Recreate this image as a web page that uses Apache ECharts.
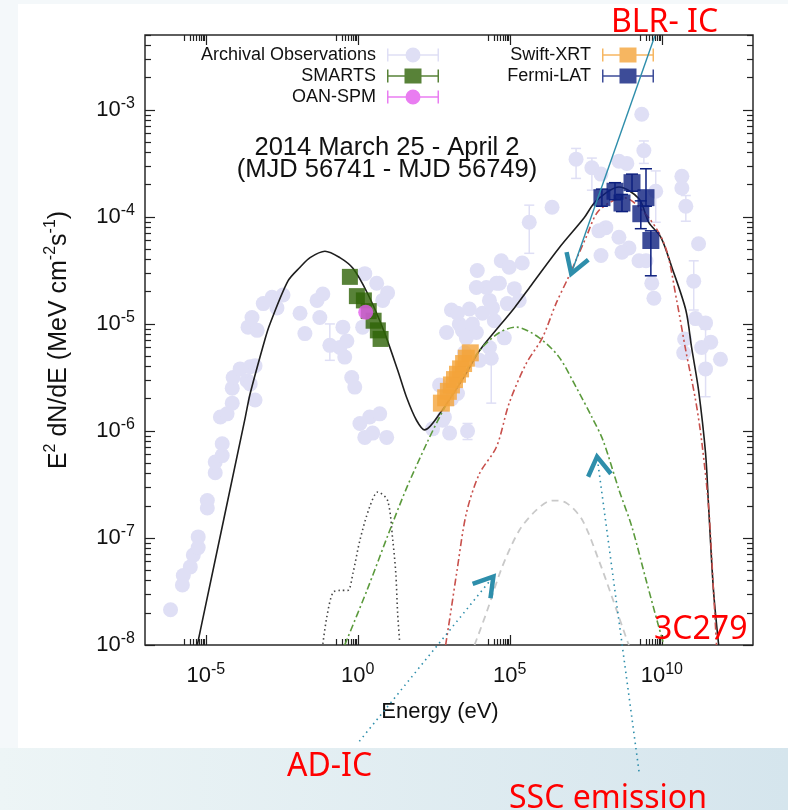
<!DOCTYPE html>
<html>
<head>
<meta charset="utf-8">
<script src="https://cdn.jsdelivr.net/npm/echarts@6/dist/echarts.min.js"></script>
<style>
  html, body { margin: 0; padding: 0; background: #f4f8fa; }
  #sed { width: 788px; height: 810px; }
</style>
</head>
<body>
<div id="sed"></div>
<script>
// all values are log10: energy in eV, flux E^2 dN/dE in MeV cm^-2 s^-1

// archival observations
const archE = [-6.16, -5.77, -5.74, -5.51, -5.41, -5.25, -5.25, -4.95, -4.95, -4.69, -4.69, -4.46, -4.46, -4.52, -4.30,
  -4.13, -4.13, -4.10, -3.87, -3.64, -3.54, -3.38, -3.38, -3.54, -3.61, -3.31, -3.48, -3.11, -2.82, -2.46, -2.66,
  -1.90, -1.74, -1.34, -1.15, -1.25, -0.92, -0.49, -0.36, -0.59, -0.43, -0.20, -0.10, 0.23, 0.62, 0.98, 0.82, 0.16,
  0.07, 0.39, 0.72, 0.49, 0.95, 0.23,
  2.46, 3.02, 2.85, 3.61, 2.69, 3.08, 3.08, 2.92, 3.44, 3.77, 4.10, 4.33, 4.72, 4.98, 4.66, 4.92, 4.82, 4.33, 3.57,
  4.00, 3.67, 5.41, 4.23, 3.93, 4.39, 5.64, 6.39, 3.90, 4.43, 3.34, 3.90, 3.28, 2.79,
  5.15, 4.49, 5.31, 3.51, 3.28, 4.56,
  7.18, 7.70, 8.00, 8.59, 8.85, 9.41, 9.34, 9.80, 8.16, 8.59, 8.92, 8.00, 7.93, 9.48, 9.67, 9.74, 8.69, 9.25,
  10.66, 10.66, 10.79, 11.21, 11.05, 11.11, 11.44, 10.75, 10.72, 11.61, 11.93, 11.44, 11.31];
const archF = [-7.67, -7.44, -7.35, -7.27, -7.16, -7.09, -6.99, -6.72, -6.65, -6.39, -6.29, -6.23, -6.12, -5.87, -5.84,
  -5.74, -5.60, -5.50, -5.42, -5.53, -5.40, -5.39, -5.71, -5.56, -5.03, -5.06, -4.94, -4.81, -4.75, -4.73, -4.85,
  -4.90, -5.09, -4.78, -4.72, -4.94, -5.20, -5.03, -5.16, -5.22, -5.31, -5.50, -5.59, -4.53, -4.62, -4.71, -4.78, -5.03,
  -5.93, -5.87, -5.84, -6.02, -6.06, -6.06,
  -5.98, -6.02, -5.87, -6.00, -5.57, -5.70, -4.87, -5.08, -5.06, -5.00, -4.90, -4.78, -4.41, -4.47, -4.62, -4.81, -5.13,
  -5.22, -5.13, -5.34, -4.86, -4.43, -4.66, -4.50, -5.32, -4.05, -3.91, -4.66, -4.85, -5.00, -5.08, -5.65, -5.90,
  -4.67, -4.97, -4.78, -5.27, -4.90, -4.62,
  -3.46, -3.54, -3.60, -3.48, -3.50, -3.38, -3.04, -3.76, -4.10, -4.19, -4.29, -4.36, -4.13, -4.41, -4.62, -4.76, -4.33, -4.41,
  -3.62, -3.73, -3.90, -4.25, -4.60, -4.95, -4.99, -5.14, -5.27, -5.17, -5.33, -5.42, -5.22];
const archErrE = [-0.92, 3.61, 4.39, 5.64, 7.18, 7.70, 9.41, 9.80, 10.79, 11.05, 11.44];
const archErrLo = [-5.34, -6.08, -5.74, -4.34, -3.64, -3.75, -3.50, -4.05, -4.04, -4.87, -5.68];
const archErrHi = [-5.00, -5.93, -5.20, -3.89, -3.36, -3.45, -3.29, -3.57, -3.80, -4.41, -5.05];

// SMARTS
const smartsE = [-0.26, -0.03, 0.20, 0.36, 0.52, 0.66, 0.75];
const smartsF = [-4.56, -4.74, -4.78, -4.88, -4.97, -5.06, -5.14];
// OAN-SPM
const oanE = [0.26];
const oanF = [-4.89];
// Swift-XRT
const swiftE = [2.75, 2.89, 2.98, 3.08, 3.18, 3.28, 3.38, 3.48, 3.57, 3.70];
const swiftF = [-5.74, -5.69, -5.63, -5.57, -5.52, -5.47, -5.42, -5.37, -5.32, -5.27];
// Fermi-LAT
const fermiE = [8.03, 8.46, 8.69, 9.02, 9.48, 9.31, 9.64];
const fermiF = [-3.82, -3.76, -3.87, -3.68, -3.82, -3.97, -4.22];
const fermiLo = [-3.90, -3.84, -3.95, -3.76, -3.90, -4.11, -4.55];
const fermiHi = [-3.74, -3.68, -3.79, -3.60, -3.55, -3.85, -4.13];

// model curves
const totalE = [-5.28, -5.11, -3.70, -3.54, -3.05, -2.89, -2.30, -1.90, -1.57, -1.08, -0.59, -0.16, 0.33, 0.85, 1.31,
  1.61, 1.93, 2.20, 2.69, 3.57, 4.00, 5.15, 5.70, 6.62, 7.44, 7.84, 8.59, 9.25, 9.57, 9.97, 10.33, 10.79, 10.98,
  11.21, 11.44, 11.54, 11.70, 11.87];
const totalF = [-8.00, -7.77, -5.87, -5.65, -5.14, -5.00, -4.60, -4.47, -4.38, -4.32, -4.38, -4.48, -4.72, -5.06, -5.43,
  -5.69, -5.90, -5.99, -5.84, -5.46, -5.25, -4.85, -4.64, -4.29, -4.01, -3.85, -3.72, -3.83, -4.05, -4.19, -4.47, -4.87, -5.22,
  -5.62, -6.21, -6.71, -7.49, -8.00];
const diskE = [-1.15, -1.02, -0.82, -0.59, -0.33, -0.16, 0.07, 0.39, 0.66, 0.98, 1.15, 1.25, 1.31, 1.38];
const diskF = [-7.99, -7.74, -7.51, -7.49, -7.49, -7.33, -7.02, -6.71, -6.57, -6.65, -7.02, -7.33, -7.70, -7.98];
const sscE = [-0.43, 0.30, 1.05, 1.61, 2.26, 2.69, 3.18, 4.00, 4.66, 5.21, 5.97, 6.62, 7.18, 7.70, 8.07, 8.59, 9.02,
  9.48, 9.90, 10.07];
const sscF = [-8.00, -7.49, -6.93, -6.53, -6.12, -5.87, -5.62, -5.25, -5.08, -5.03, -5.13, -5.31, -5.59, -5.87, -6.09,
  -6.55, -6.90, -7.39, -7.83, -8.00];
const adicE = [3.84, 4.23, 4.75, 5.31, 5.87, 6.39, 6.85, 7.38, 7.93, 8.36, 8.85, 8.92];
const adicF = [-8.00, -7.70, -7.27, -6.93, -6.74, -6.65, -6.67, -6.83, -7.21, -7.55, -7.95, -8.00];
const blrE = [2.89, 3.08, 3.25, 3.57, 4.00, 4.56, 4.98, 5.54, 6.07, 6.52, 6.95, 7.51, 7.93, 8.75, 9.60, 10.13, 10.49,
  10.79, 11.11, 11.31, 11.54, 11.70, 11.80];
const blrF = [-8.00, -7.65, -7.33, -6.77, -6.40, -6.15, -5.74, -5.37, -5.13, -4.81, -4.55, -4.19, -3.94, -3.82, -4.02,
  -4.29, -4.78, -5.25, -5.71, -6.09, -6.71, -7.49, -8.00];

// tick labels
const xMajor = [-5, 0, 5, 10];
const yMajor = [-8, -7, -6, -5, -4, -3];

const steps = [2, 3, 4, 5, 6, 7, 8, 9].map(k => Math.log10(k));
const xMinor = [];
xMajor.forEach(m => steps.forEach(s => xMinor.push(m - 1 + s)));
const yMinor = [];
yMajor.forEach(m => steps.forEach(s => { if (m + s <= -2.3) yMinor.push(m + s); }));

const pairs = (a, b) => a.map((v, i) => [v, b[i]]);
const triples = (a, b, c) => a.map((v, i) => [v, b[i], c[i]]);

const FONT = '"Liberation Sans", Arial, sans-serif';
const C_ARCH = '#dfdff5';
const C_SMARTS = '#2e6306';
const C_OAN = '#e35ced';
const C_SWIFT = '#f4a43a';
const C_FERMI = '#0c1f7e';
const TEAL = '#2e8eab';

const chart = echarts.init(document.getElementById('sed'), null, { renderer: 'canvas' });

const powLabel = v => '{b|10}{s|' + v + '}';
const labelRich = {
  b: { fontSize: 22, lineHeight: 28, fontFamily: FONT, color: '#111' },
  s: { fontSize: 16, lineHeight: 12, fontFamily: FONT, color: '#111', verticalAlign: 'top' }
};
const tickLine = { color: '#222', width: 1.2 };

function xAxisDef(pos, values, len, labels) {
  return {
    type: 'value', min: -7, max: 13, position: pos,
    splitLine: { show: false },
    axisLine: { show: false, onZero: false },
    axisTick: { inside: true, length: len, customValues: values, lineStyle: tickLine },
    axisLabel: labels
      ? { customValues: xMajor, formatter: powLabel, rich: labelRich, margin: 17 }
      : { show: false }
  };
}
function yAxisDef(pos, values, len, labels) {
  return {
    type: 'value', min: -8, max: -2.3, position: pos,
    splitLine: { show: false },
    axisLine: { show: false, onZero: false },
    axisTick: { inside: true, length: len, customValues: values, lineStyle: tickLine },
    axisLabel: labels
      ? { customValues: yMajor, formatter: powLabel, rich: labelRich, margin: 10 }
      : { show: false }
  };
}

function errorBar(color, half) {
  return function (params, api) {
    const top = api.coord([api.value(0), api.value(2)]);
    const bot = api.coord([api.value(0), api.value(1)]);
    const st = { stroke: color, lineWidth: 1.5 };
    return {
      type: 'group',
      children: [
        { type: 'line', shape: { x1: top[0], y1: top[1], x2: bot[0], y2: bot[1] }, style: st },
        { type: 'line', shape: { x1: top[0] - half, y1: top[1], x2: top[0] + half, y2: top[1] }, style: st },
        { type: 'line', shape: { x1: bot[0] - half, y1: bot[1], x2: bot[0] + half, y2: bot[1] }, style: st }
      ]
    };
  };
}

function model(name, e, f, color, dash, width) {
  return {
    name: name, type: 'line', data: pairs(e, f), showSymbol: false, smooth: 0.3, z: 3,
    lineStyle: { color: color, width: width, type: dash }, silent: true
  };
}

// legend icons: marker with horizontal error bar
const barPath = 'M0,1h1.5v5.75h49v-5.75h1.5v13h-1.5v-5.75h-49v5.75h-1.5z';
const iconCircle = 'path://' + barPath + ' M18.5,7.5a7.5,7.5 0 1,1 15,0a7.5,7.5 0 1,1 -15,0z';
const iconSquare = 'path://' + barPath + ' M17.5,0h17v15h-17z';
const legendBase = {
  orient: 'vertical', align: 'right', top: 46, padding: 0, itemGap: 3,
  itemWidth: 52, itemHeight: 15, selectedMode: false,
  textStyle: { fontSize: 18, fontFamily: FONT, color: '#111', padding: [0, 6, 0, 0] }
};

const option = {
  backgroundColor: 'transparent',
  animation: false,
  grid: {
    left: 145, top: 35, right: 35, bottom: 165,
    show: true, borderColor: '#2a2a2a', borderWidth: 1.5, backgroundColor: 'transparent',
    outerBoundsMode: 'none'
  },
  title: {
    text: '2014 March 25 - April 2\n(MJD 56741 - MJD 56749)',
    left: 387, top: 137, textAlign: 'center', padding: 0,
    textStyle: { fontSize: 25.5, fontWeight: 'normal', fontFamily: FONT, color: '#111', lineHeight: 22 }
  },
  legend: [
    Object.assign({}, legendBase, {
      right: 349,
      data: [
        { name: 'Archival Observations', icon: iconCircle },
        { name: 'SMARTS', icon: iconSquare },
        { name: 'OAN-SPM', icon: iconCircle }
      ]
    }),
    Object.assign({}, legendBase, {
      right: 134,
      data: [
        { name: 'Swift-XRT', icon: iconSquare },
        { name: 'Fermi-LAT', icon: iconSquare }
      ]
    })
  ],
  xAxis: [
    Object.assign(xAxisDef('bottom', xMajor, 10, true), {
      name: 'Energy (eV)', nameLocation: 'middle', nameGap: 56,
      nameTextStyle: { fontSize: 22, fontFamily: FONT, color: '#111', padding: [0, 18, 0, 0] }
    }),
    xAxisDef('bottom', xMinor, 6, false),
    xAxisDef('top', xMajor, 10, false),
    xAxisDef('top', xMinor, 6, false)
  ],
  yAxis: [
    Object.assign(yAxisDef('left', yMajor, 10, true), {
      name: 'E{s|2} dN/dE (MeV cm{s|-2}s{s|-1})', nameLocation: 'middle', nameGap: 70,
      nameTextStyle: {
        fontSize: 25, lineHeight: 32, fontFamily: FONT, color: '#111',
        rich: { s: { fontSize: 16, lineHeight: 13, fontFamily: FONT, color: '#111', verticalAlign: 'top' } }
      }
    }),
    yAxisDef('left', yMinor, 6, false),
    yAxisDef('right', yMajor, 10, false),
    yAxisDef('right', yMinor, 6, false)
  ],
  series: [
    {
      name: 'archival errors', type: 'custom', z: 1, silent: true,
      renderItem: errorBar(C_ARCH, 5), data: triples(archErrE, archErrLo, archErrHi),
      encode: { x: 0, y: [1, 2] }
    },
    {
      name: 'Archival Observations', type: 'scatter', z: 1, silent: true,
      symbol: 'circle', symbolSize: 15, itemStyle: { color: C_ARCH, opacity: 1 },
      data: pairs(archE, archF)
    },
    model('total', totalE, totalF, '#1e1e1e', 'solid', 1.6),
    model('disk', diskE, diskF, '#444', [1.5, 3], 1.6),
    model('SSC', sscE, sscF, '#5b9a3c', [7, 3, 2, 3], 1.6),
    model('AD-IC', adicE, adicF, '#c9c9c9', [7, 5], 1.8),
    model('BLR-IC', blrE, blrF, '#c8504c', [7, 3, 2, 3, 2, 3], 1.6),
    {
      name: 'SMARTS', type: 'scatter', z: 5, silent: true,
      symbol: 'rect', symbolSize: 16, itemStyle: { color: C_SMARTS },
      data: pairs(smartsE, smartsF)
    },
    {
      name: 'OAN-SPM', type: 'scatter', z: 6, silent: true,
      symbol: 'circle', symbolSize: 15, itemStyle: { color: C_OAN },
      data: pairs(oanE, oanF)
    },
    {
      name: 'Swift-XRT', type: 'scatter', z: 5, silent: true,
      symbol: 'rect', symbolSize: 17, itemStyle: { color: C_SWIFT },
      data: pairs(swiftE, swiftF)
    },
    {
      name: 'fermi errors', type: 'custom', z: 5, silent: true,
      renderItem: errorBar(C_FERMI, 6), data: triples(fermiE, fermiLo, fermiHi),
      encode: { x: 0, y: [1, 2] }
    },
    {
      name: 'Fermi-LAT', type: 'scatter', z: 5, silent: true,
      symbol: 'rect', symbolSize: 17, itemStyle: { color: C_FERMI },
      data: pairs(fermiE, fermiF)
    }
  ]
};

chart.setOption(option);

// annotation arrows, anchored in data space (tails may fall outside the axes)
const arrows = [
  { tail: [9.77, -2.31], tip: [7.02, -4.53], dotted: false },
  { tail: [0.05, -8.90], tip: [4.46, -7.36], dotted: true },
  { tail: [9.25, -9.18], tip: [7.87, -6.24], dotted: true }
];
const labels = [
  { text: 'BLR- IC', x: 611, y: 7 },
  { text: '3C279', x: 654, y: 614 },
  { text: 'AD-IC', x: 287, y: 751 },
  { text: 'SSC emission', x: 509, y: 783 }
];

const toPx = p => chart.convertToPixel({ xAxisIndex: 0, yAxisIndex: 0 }, p);
const graphics = [
  { type: 'rect', z: -10, silent: true, shape: { x: 18, y: 4, width: 770, height: 744 }, style: { fill: '#fff' } },
  {
    type: 'rect', z: -10, silent: true, shape: { x: 0, y: 748, width: 788, height: 62 },
    style: {
      fill: new echarts.graphic.LinearGradient(0, 0, 1, 0, [
        { offset: 0, color: '#edf5f6' }, { offset: 1, color: '#d5e5ed' }
      ])
    }
  }
];
arrows.forEach(a => {
  const tip = toPx(a.tip);
  const tail = toPx(a.tail);
  graphics.push({
    type: 'line', z: 50, silent: true,
    shape: { x1: tail[0], y1: tail[1], x2: tip[0], y2: tip[1] },
    style: { stroke: TEAL, lineWidth: a.dotted ? 1.6 : 1.4, lineDash: a.dotted ? [1.5, 4] : null }
  });
  const dx = tail[0] - tip[0], dy = tail[1] - tip[1];
  const len = Math.hypot(dx, dy);
  const ux = dx / len, uy = dy / len;
  const arm = (ang) => {
    const c = Math.cos(ang), s = Math.sin(ang);
    return [tip[0] + 22 * (ux * c - uy * s), tip[1] + 22 * (ux * s + uy * c)];
  };
  graphics.push({
    type: 'polyline', z: 50, silent: true,
    shape: { points: [arm(0.55), tip, arm(-0.55)] },
    style: { stroke: TEAL, lineWidth: 4.5, fill: null, lineJoin: 'miter' }
  });
});
labels.forEach(l => {
  graphics.push({
    type: 'text', z: 60, silent: true, x: l.x, y: l.y,
    style: { text: l.text, fill: '#ff0000', font: '32px "Noto Sans"', verticalAlign: 'top' }
  });
});

chart.setOption({ graphic: graphics });
window.addEventListener('resize', chart.resize);
</script>
</body>
</html>
